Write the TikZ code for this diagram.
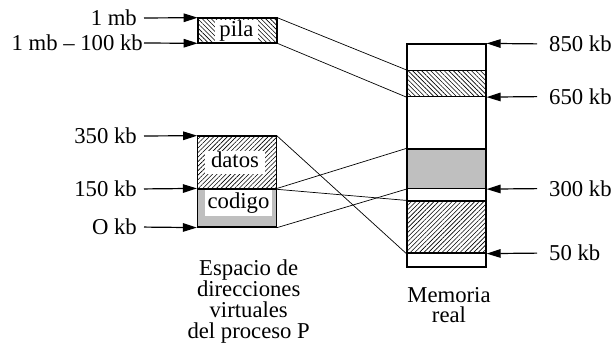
\documentclass[tikz,border=0pt]{standalone}
\usepackage{fontspec}
\setmainfont{Liberation Serif}
\usetikzlibrary{arrows.meta,patterns.meta}

\tikzset{
  block/.style={draw, line width=1.2pt, inner sep=0pt, minimum width=79pt},
  hatchne/.style={pattern={Lines[angle=45,distance=3.2pt,line width=0.6pt]}},
  hatchnw/.style={pattern={Lines[angle=-45,distance=3.2pt,line width=0.6pt]}},
  memgray/.style={fill=black!25},
  tag/.style={fill=white, inner sep=0pt, text height=15pt, text depth=5pt},
  addr/.style={inner sep=0pt, text height=15pt, text depth=0pt},
  ptr/.style={line width=1.2pt, -{Triangle[length=14pt,width=8.5pt]}},
  map/.style={line width=0.7pt},
}

\begin{document}
\begin{tikzpicture}[x=1pt, y=-1pt, font=\fontsize{22.7pt}{20.7pt}\selectfont]
\useasboundingbox (0,0) rectangle (615,346);

% virtual address space of process P
\node[block, hatchnw, minimum height=25pt] (pila) at (237.5,30.5) {};
\node[block, hatchne, minimum height=53pt] (datos) at (237,162.5) {};
\node[block, memgray, minimum height=38pt] (codigo) at (237,208) {};
\node[tag, minimum width=43pt, minimum height=22pt] (pilaT) at (236.5,31) {pila};
\node[tag, minimum width=60pt, minimum height=23pt] (datosT) at (235,162.5) {datos};
\node[tag, minimum width=67pt, minimum height=26pt] (codigoT) at (238.5,203) {codigo};

% real memory
\node[block, minimum height=223pt] (mem) at (446.5,155.5) {};
\node[block, hatchnw, minimum height=26pt] (mh1) at (446.5,83.5) {};
\node[block, memgray, minimum height=39.5pt] (mg) at (446.5,168.75) {};
\node[block, hatchne, minimum height=52pt] (mh2) at (446.5,227) {};

% virtual addresses
\node[addr, anchor=east] (a1mb) at (137,18) {1 mb};
\node[addr, anchor=east] (a900) at (143,43) {1 mb \textendash{} 100 kb};
\node[addr, anchor=east] (a350) at (137,136) {350 kb};
\node[addr, anchor=east] (a150) at (137,189) {150 kb};
\node[addr, anchor=east] (a0) at (137,227) {O kb};

\draw[ptr, shorten <=7pt] (a1mb.east) -- (pila.north west);
\draw[ptr, shorten <=1pt] (a900.east) -- (pila.south west);
\draw[ptr, shorten <=7pt] (a350.east) -- (datos.north west);
\draw[ptr, shorten <=7pt] (a150.east) -- (codigo.north west);
\draw[ptr, shorten <=7pt] (a0.east) -- (codigo.south west);

% real addresses
\node[addr, anchor=west] (r850) at (549,44) {850 kb};
\node[addr, anchor=west] (r650) at (549,96.5) {650 kb};
\node[addr, anchor=west] (r300) at (549,188.5) {300 kb};
\node[addr, anchor=west] (r50) at (549,253) {50 kb};

\draw[ptr, shorten <=12pt] (r850.west) -- (mem.north east);
\draw[ptr, shorten <=12pt] (r650.west) -- (mh1.south east);
\draw[ptr, shorten <=12pt] (r300.west) -- (mg.south east);
\draw[ptr, shorten <=12pt] (r50.west) -- (mh2.south east);

% mapping of segments
\draw[map] (pila.north east) -- (mh1.north west);
\draw[map] (pila.south east) -- (mh1.south west);
\draw[map] (datos.north east) -- (mh2.south west);
\draw[map] (datos.south east) -- (mh2.north west);
\draw[map] (codigo.north east) -- (mg.north west);
\draw[map] (codigo.south east) -- (mg.south west);

% captions
\node[anchor=north, align=center, inner sep=0pt] (vcap) at (248.7,260)
  {Espacio de\\direcciones\\virtuales\\del proceso P};
\node[anchor=north, align=center, inner sep=0pt] (mcap) at (449,287)
  {Memoria\\real};
\end{tikzpicture}
\end{document}
